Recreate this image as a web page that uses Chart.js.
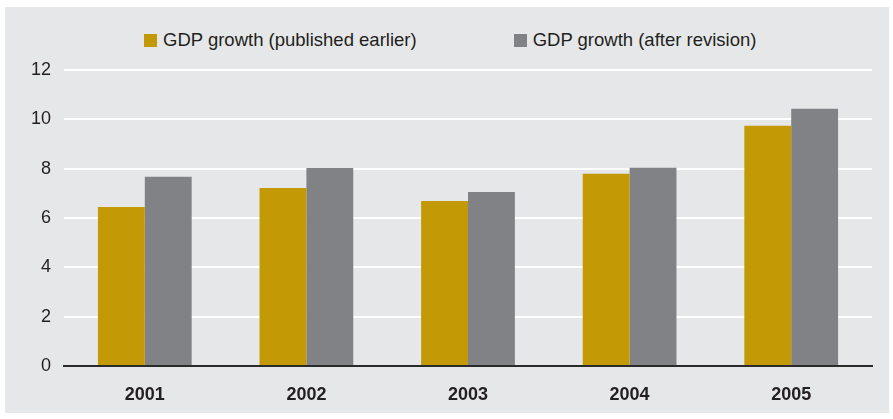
<!DOCTYPE html>
<html>
<head>
<meta charset="utf-8">
<script src="https://cdn.jsdelivr.net/npm/chart.js@4.4.1/dist/chart.umd.min.js"></script>
<style>
  body { margin: 0; background: #ffffff; font-family: "Liberation Sans", Arial, sans-serif; }
  #wrap { position: relative; width: 893px; height: 419px; }
  #panel { position: absolute; left: 5px; top: 7px; width: 884px; height: 406px; background: #e6e7e8; }
  #legend { position: absolute; left: 139px; top: 23px; height: 20px; display: flex; align-items: center; gap: 97px;
            font-size: 18.5px; color: #231f20; white-space: nowrap; }
  .item { display: flex; align-items: center; gap: 6px; }
  .box { width: 13px; height: 13px; }
  canvas { position: absolute; left: 0; top: 0; }
</style>
</head>
<body>
<div id="wrap">
  <div id="panel">
    <div id="legend"></div>
    <canvas id="gdpChart" width="884" height="406"></canvas>
  </div>
</div>
<script>
const years = ['2001', '2002', '2003', '2004', '2005'];
const publishedEarlier = [6.45, 7.22, 6.69, 7.79, 9.74];
const afterRevision = [7.67, 8.03, 7.05, 8.04, 10.43];
const seriesLabels = ['GDP growth (published earlier)', 'GDP growth (after revision)'];
const seriesColors = ['#c39905', '#818286'];

// html legend
const legend = document.getElementById('legend');
seriesLabels.forEach((label, i) => {
    const item = document.createElement('div');
    item.className = 'item';
    const box = document.createElement('span');
    box.className = 'box';
    box.style.background = seriesColors[i];
    const txt = document.createElement('span');
    txt.textContent = label;
    item.appendChild(box);
    item.appendChild(txt);
    legend.appendChild(item);
});

const ctx = document.getElementById('gdpChart').getContext('2d');
new Chart(ctx, {
    type: 'bar',
    data: {
        labels: years,
        datasets: [{
            label: seriesLabels[0],
            data: publishedEarlier,
            backgroundColor: seriesColors[0],
            borderWidth: 0
        }, {
            label: seriesLabels[1],
            data: afterRevision,
            backgroundColor: seriesColors[1],
            borderWidth: 0
        }]
    },
    options: {
        responsive: false,
        animation: false,
        categoryPercentage: 0.58,
        barPercentage: 1,
        layout: {
            padding: { top: 63, right: 17, left: 0, bottom: 0 }
        },
        plugins: {
            legend: { display: false },
            tooltip: { enabled: false }
        },
        scales: {
            x: {
                grid: { display: false, drawTicks: false },
                border: { display: true, color: '#2b2a2b', width: 2 },
                ticks: {
                    padding: 18,
                    color: '#231f20',
                    font: { family: '"Liberation Sans", Arial, sans-serif', size: 18, weight: 'bold' }
                },
                afterFit: function(scale) { scale.height = 47; }
            },
            y: {
                min: 0,
                max: 12,
                ticks: {
                    stepSize: 2,
                    padding: 13,
                    color: '#231f20',
                    font: { family: '"Liberation Sans", Arial, sans-serif', size: 18 }
                },
                grid: { color: '#ffffff', lineWidth: 2, drawTicks: false },
                border: { display: false },
                afterFit: function(scale) { scale.width = 59; }
            }
        }
    }
});
</script>
</body>
</html>
